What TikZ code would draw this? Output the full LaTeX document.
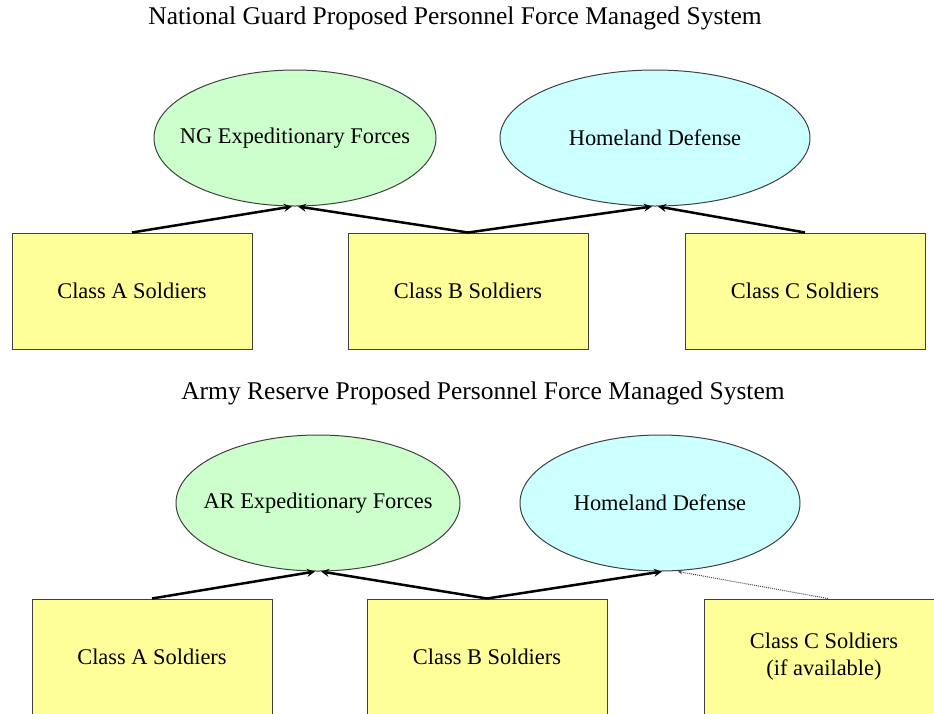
\documentclass[tikz,border=0pt]{standalone}
\usepackage{fontspec}
\setmainfont{Liberation Serif}
\usetikzlibrary{arrows,shapes.geometric}
\definecolor{boxyellow}{HTML}{FFFF99}
\definecolor{forcegreen}{HTML}{CCFFCC}
\definecolor{homecyan}{HTML}{CCFFFF}
\begin{document}
\begin{tikzpicture}[x=1pt,y=-1pt]
    \tikzstyle{every node}=[font=\fontsize{22.4}{27}\selectfont]
    \tikzstyle{heading}=[font=\fontsize{25.5}{30}\selectfont]
    \tikzstyle{soldiers}=[draw=black!75, line width=1pt, fill=boxyellow, minimum width=240pt, minimum height=116pt, inner sep=0pt, align=center]
    \tikzstyle{force}=[ellipse, draw=black!75, line width=1pt, fill=forcegreen, minimum width=282pt, minimum height=136pt, inner sep=0pt]
    \tikzstyle{homeland}=[force, fill=homecyan]
    \tikzstyle{link}=[-stealth, line width=2.5pt, black]
    \tikzstyle{maybe}=[-stealth, line width=1pt, densely dotted, black!70]
    \useasboundingbox (0,0) rectangle (934,713);

     \node[heading] (ngtitle) at (455,18) {National Guard Proposed Personnel Force Managed System};
     \node[force, label=center:{NG Expeditionary Forces}] (ngexp) at (295,138) {};
     \node[homeland, minimum width=310pt, label=center:{Homeland Defense}] (nghome) at (655,138) {};
     \node[soldiers] (nga) at (132,291) {Class A Soldiers};
     \node[soldiers] (ngb) at (468,291) {Class B Soldiers};
     \node[soldiers] (ngc) at (805,291) {Class C Soldiers};

     \draw[link] (nga.north) -- ([xshift=-3]ngexp.south);
     \draw[link] (ngb.north) -- ([xshift=3]ngexp.south);
     \draw[link] (ngb.north) -- ([xshift=-3]nghome.south);
     \draw[link] (ngc.north) -- ([xshift=3]nghome.south);

     \node[heading] (artitle) at (483,393) {Army Reserve Proposed Personnel Force Managed System};
     \node[force, minimum width=284pt, label=center:{AR Expeditionary Forces}] (arexp) at (318,503) {};
     \node[homeland, minimum width=280pt, label=center:{Homeland Defense}] (arhome) at (660,503) {};
     \node[soldiers] (ara) at (152,657) {Class A Soldiers};
     \node[soldiers] (arb) at (487,657) {Class B Soldiers};
     \node[soldiers] (arc) at (824,657) {Class C Soldiers\\(if available)};

     \draw[link] (ara.north) -- ([xshift=-3]arexp.south);
     \draw[link] (arb.north) -- ([xshift=3]arexp.south);
     \draw[link] (arb.north) -- ([xshift=2]arhome.south);
     \draw[maybe] ([xshift=4]arc.north) -- ([xshift=18]arhome.south);
\end{tikzpicture}
\end{document}
